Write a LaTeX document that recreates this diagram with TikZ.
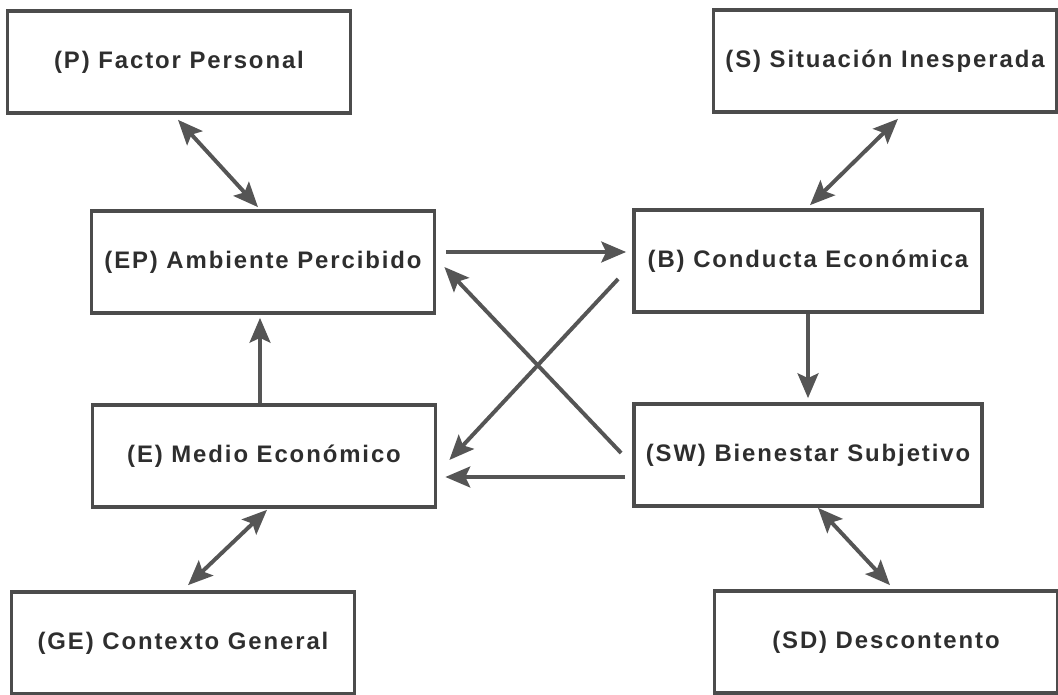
\documentclass[tikz,border=0pt]{standalone}
\usepackage{fontspec}
\setmainfont{Liberation Sans}[LetterSpace=8]
\usetikzlibrary{arrows.meta, positioning, calc}
\definecolor{linegray}{HTML}{4C4C4C}
\definecolor{arrowgray}{HTML}{555555}
\definecolor{textgray}{HTML}{2E2E2E}

\begin{document}
\begin{tikzpicture}[x=0.025cm, y=-0.025cm,
        caja/.style={draw=linegray, line width=2.6pt, minimum width=8.575cm,
            minimum height=2.55cm, inner sep=0pt, text=textgray,
            font=\fontsize{17}{20}\selectfont\bfseries},
        flecha/.style={draw=arrowgray, line width=2.8pt,
            -{Stealth[length=0.62cm, width=0.52cm, inset=0.12cm]}},
        doble/.style={flecha,
            {Stealth[length=0.62cm, width=0.52cm, inset=0.12cm]}-{Stealth[length=0.62cm, width=0.52cm, inset=0.12cm]}},
    ]
        \useasboundingbox (0,0) rectangle (1058,695);

        % cajas
        \node[caja] (P) at (179,62) {(P) Factor Personal};
        \node[caja] (S) at (885,61) {(S) Situación Inesperada};
        \node[caja] (EP) at (263,262) {(EP) Ambiente Percibido};
        \node[caja, minimum width=8.7cm] (B) at (808,261) {(B) Conducta Económica};
        \node[caja] (E) at (264,456) {(E) Medio Económico};
        \node[caja, minimum width=8.7cm] (SW) at (808,455) {(SW) Bienestar Subjetivo};
        \node[caja] (GE) at (183,643) {(GE) Contexto General};
        \node[caja] (SD) at (886,642) {(SD) Descontento};

        % flechas
        \draw[doble] ($(P.south)+(-1,5)$) -- ($(EP.north)+(-5,-2)$);
        \draw[doble] ($(S.south)+(13,5)$) -- ($(B.north)+(2,-3)$);
        \draw[flecha] ($(EP.east)+(10,-10)$) -- ($(B.west)+(-6,-9)$);
        \draw[flecha] ($(SW.west)+(-11,-2)$) -- ($(EP.east)+(8,5)$);
        \draw[flecha] ($(B.west)+(-14,18)$) -- ($(E.east)+(12,4)$);
        \draw[flecha] ($(SW.west)+(-7,22)$) -- ($(E.east)+(8,21)$);
        \draw[flecha] ($(E.north)+(-4,0)$) -- ($(EP.south)+(-3,3)$);
        \draw[flecha] (B.south) -- ($(SW.north)+(0,-4)$);
        \draw[doble] ($(E.south)+(3,1)$) -- ($(GE.north)+(5,-5)$);
        \draw[doble] ($(SW.south)+(10,0)$) -- ($(SD.north)+(4,-4)$);
\end{tikzpicture}
\end{document}
